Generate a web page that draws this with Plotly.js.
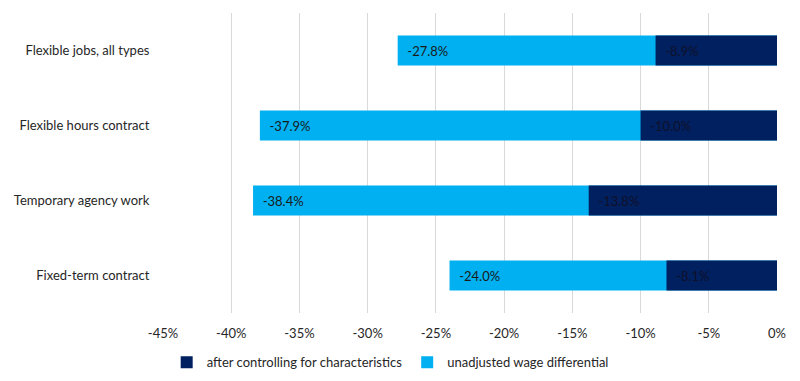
<!DOCTYPE html>
<html>
<head>
<meta charset="utf-8">
<script src="https://cdn.plot.ly/plotly-3.0.1.min.js"></script>
<style>html,body{margin:0;padding:0;background:#fff;}#chart{width:800px;height:381px;}</style>
</head>
<body>
<div id="chart"></div>
<script>
var categories = ["Flexible jobs, all types", "Flexible hours contract", "Temporary agency work", "Fixed-term contract"];
var unadjusted = [-27.8, -37.9, -38.4, -24.0];
var adjusted = [-8.9, -10.0, -13.8, -8.1];
var tickValues = [-45, -40, -35, -30, -25, -20, -15, -10, -5, 0];
var tickLabels = ["-45%", "-40%", "-35%", "-30%", "-25%", "-20%", "-15%", "-10%", "-5%", "0%"];

function fmt(v){ return '\u00a0\u00a0' + v.toFixed(1) + '%'; }
var FONT = 'Lato, "Open Sans", sans-serif';

var traces = [
  {
    type: 'bar', orientation: 'h', name: 'unadjusted wage differential',
    y: categories, x: unadjusted, width: 0.4,
    marker: {color: '#00B0F0', line: {width: 0}},
    text: unadjusted.map(fmt), textposition: 'inside', insidetextanchor: 'end',
    textangle: 0, textfont: {color: '#1a1a1a', size: 13, family: FONT},
    legendrank: 2, hoverinfo: 'x+name'
  },
  {
    type: 'bar', orientation: 'h', name: 'after controlling for characteristics',
    y: categories, x: adjusted, width: 0.4,
    marker: {color: '#002060', line: {width: 0}},
    text: adjusted.map(fmt), textposition: 'inside', insidetextanchor: 'end',
    textangle: 0, textfont: {color: '#10102a', size: 13, family: FONT},
    legendrank: 1, hoverinfo: 'x+name'
  }
];

var layout = {
  width: 800, height: 381,
  margin: {l: 163, r: 23, t: 13, b: 68},
  paper_bgcolor: '#fff', plot_bgcolor: '#fff',
  barmode: 'overlay',
  font: {family: FONT, size: 13, color: '#262626'},
  xaxis: {
    range: [-45, 0], tickvals: tickValues, ticktext: tickLabels,
    showgrid: true, gridcolor: '#d9d9d9', gridwidth: 1,
    zeroline: false, showline: false, ticks: 'outside', ticklen: 8, tickcolor: 'rgba(0,0,0,0)',
    tickfont: {size: 13, family: FONT, color: '#262626'}, fixedrange: true
  },
  yaxis: {
    type: 'category', autorange: 'reversed', showgrid: false, zeroline: false,
    showline: false, ticks: 'outside', ticklen: 10, tickcolor: 'rgba(0,0,0,0)',
    tickfont: {size: 13, family: FONT, color: '#262626'}, fixedrange: true
  },
  showlegend: true,
  legend: {
    orientation: 'h', xref: 'paper', x: 0.37, xanchor: 'center',
    yref: 'container', y: 0.01, yanchor: 'bottom',
    font: {size: 13, family: FONT, color: '#262626'},
    itemwidth: 30, traceorder: 'normal'
  }
};

Plotly.newPlot('chart', traces, layout, {displayModeBar: false, staticPlot: true});
</script>
</body>
</html>
